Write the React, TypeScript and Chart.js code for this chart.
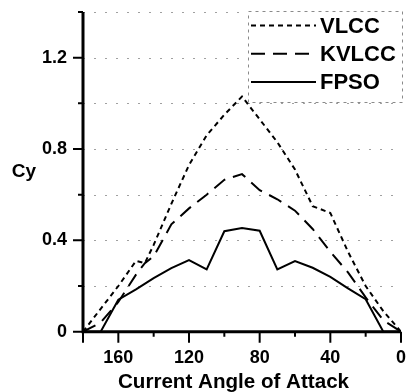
import React, { useEffect, useRef } from 'react';
import { Chart, registerables } from 'chart.js';

Chart.register(...registerables);

const vlccAngles = [180, 170, 160, 150, 145, 140, 130, 120, 110, 100, 90, 80, 70, 60, 50, 40, 30, 20, 10, 0];
const vlccCy = [0, 0.1, 0.2, 0.31, 0.3, 0.38, 0.56, 0.73, 0.86, 0.95, 1.03, 0.93, 0.83, 0.71, 0.55, 0.52, 0.35, 0.2, 0.09, 0];

const kvlccAngles = [180, 170, 160, 150, 145, 140, 130, 120, 110, 100, 90, 80, 70, 60, 50, 40, 30, 20, 10, 0];
const kvlccCy = [0, 0.04, 0.13, 0.25, 0.3, 0.33, 0.47, 0.54, 0.6, 0.665, 0.69, 0.62, 0.58, 0.53, 0.45, 0.35, 0.26, 0.15, 0.05, 0];

const fpsoAngles = [180, 170, 160, 150, 140, 130, 120, 110, 100, 90, 80, 70, 60, 50, 40, 30, 20, 10, 0];
const fpsoCy = [0, 0, 0.14, 0.185, 0.235, 0.278, 0.314, 0.273, 0.44, 0.454, 0.442, 0.273, 0.309, 0.28, 0.24, 0.19, 0.142, 0, 0];

const seriesNames = ['VLCC', 'KVLCC', 'FPSO'];
const seriesDashes = [[5, 4], [14, 8], []];
const xLabelValues = [160, 120, 80, 40, 0];
const yLabelValues = [0, 0.4, 0.8, 1.2];
const xAxisTitle = 'Current Angle of Attack';
const yAxisTitle = 'Cy';

const FONT = '"Liberation Sans", Arial, sans-serif';

const isYLabel = (v: number) => yLabelValues.some((l) => Math.abs(l - v) < 1e-6);

const framePlugin = {
  id: 'framePlugin',
  beforeDatasetsDraw(chart: any) {
    const { ctx, chartArea } = chart;
    const y = chart.scales.y;
    ctx.save();
    ctx.strokeStyle = '#a0a0a0';
    ctx.lineWidth = 1;
    ctx.setLineDash([2, 9]);
    for (let i = 1; i <= 7; i++) {
      const py = Math.round(y.getPixelForValue(i * 0.2)) + 0.5;
      ctx.beginPath();
      ctx.moveTo(chartArea.left, py);
      ctx.lineTo(chartArea.right, py);
      ctx.stroke();
    }
    ctx.restore();
  },
  afterDatasetsDraw(chart: any) {
    const { ctx, chartArea } = chart;
    const xs = chart.scales.x;
    const ys = chart.scales.y;
    ctx.save();
    ctx.setLineDash([]);
    ctx.strokeStyle = '#000';
    // axes
    ctx.lineWidth = 3;
    ctx.beginPath();
    ctx.moveTo(chartArea.left, chartArea.top);
    ctx.lineTo(chartArea.left, chartArea.bottom + 1.5);
    ctx.moveTo(chartArea.left - 1.5, chartArea.bottom);
    ctx.lineTo(chartArea.right, chartArea.bottom);
    ctx.stroke();
    // ticks
    ctx.lineWidth = 2;
    ctx.beginPath();
    for (let i = 0; i <= 7; i++) {
      const v = i * 0.2;
      const py = ys.getPixelForValue(v);
      const len = isYLabel(v) ? 10 : 5;
      ctx.moveTo(chartArea.left, py);
      ctx.lineTo(chartArea.left - len, py);
    }
    for (let a = 0; a <= 180; a += 20) {
      const px = xs.getPixelForValue(a);
      const len = xLabelValues.includes(a) || a === 180 ? 11 : 5;
      ctx.moveTo(px, chartArea.bottom);
      ctx.lineTo(px, chartArea.bottom + len);
    }
    ctx.stroke();

    // y title (horizontal)
    ctx.fillStyle = '#000';
    ctx.font = `bold 19px ${FONT}`;
    ctx.textAlign = 'center';
    ctx.textBaseline = 'middle';
    ctx.fillText(yAxisTitle, 24, (chartArea.top + chartArea.bottom) / 2);

    // x title
    ctx.font = `bold 20.6px ${FONT}`;
    ctx.textAlign = 'center';
    ctx.textBaseline = 'alphabetic';
    ctx.fillText(xAxisTitle, chartArea.left + 150.5, chartArea.bottom + 56);

    // legend
    const bx = chartArea.right - 153;
    const by = chartArea.top - 1.5;
    const bw = 154;
    const bh = 91;
    ctx.fillStyle = '#fff';
    ctx.fillRect(bx, by, bw, bh);
    ctx.strokeStyle = '#8a8a8a';
    ctx.lineWidth = 1;
    ctx.setLineDash([3, 4]);
    ctx.strokeRect(Math.round(bx) + 0.5, Math.round(by) + 0.5, bw, bh);
    ctx.font = `bold 22px ${FONT}`;
    ctx.textAlign = 'left';
    ctx.textBaseline = 'middle';
    for (let i = 0; i < seriesNames.length; i++) {
      const cy = by + 15 + i * 28.3;
      ctx.strokeStyle = '#000';
      ctx.lineWidth = 2;
      ctx.setLineDash(seriesDashes[i]);
      ctx.beginPath();
      ctx.moveTo(bx + 3, cy);
      ctx.lineTo(bx + 68, cy);
      ctx.stroke();
      ctx.fillStyle = '#000';
      ctx.fillText(seriesNames[i], bx + 72, cy + 1);
    }
    ctx.restore();
  },
};

export default function App() {
  const canvasRef = useRef<HTMLCanvasElement | null>(null);

  useEffect(() => {
    const canvas = canvasRef.current;
    if (!canvas) return;
    const mk = (angles: number[], vals: number[]) => angles.map((a, i) => ({ x: a, y: vals[i] }));
    const datasets = [mk(vlccAngles, vlccCy), mk(kvlccAngles, kvlccCy), mk(fpsoAngles, fpsoCy)].map((d, i) => ({
      label: seriesNames[i],
      data: d,
      borderColor: '#000',
      borderWidth: 2,
      borderDash: seriesDashes[i],
      pointRadius: 0,
      tension: 0,
      fill: false,
    }));

    const chart = new Chart(canvas, {
      type: 'line',
      data: { datasets },
      options: {
        animation: false,
        responsive: false,
        devicePixelRatio: 1,
        layout: { padding: { top: 12, right: 7, bottom: 0, left: 0 } },
        plugins: { legend: { display: false }, tooltip: { enabled: false } },
        scales: {
          x: {
            type: 'linear',
            reverse: true,
            min: 0,
            max: 180,
            grid: { display: false, drawTicks: true, tickLength: 10 },
            border: { display: false },
            ticks: {
              stepSize: 20,
              autoSkip: false,
              maxRotation: 0,
              padding: 6,
              color: '#000',
              font: { family: FONT, size: 18, weight: 'bold' },
              callback: (v: any) => (xLabelValues.includes(Number(v)) ? String(v) : ''),
            },
            afterFit: (s: any) => {
              s.height = 60.3;
              s.paddingLeft = 0;
              s.paddingRight = 0;
            },
          },
          y: {
            type: 'linear',
            min: 0,
            max: 1.4,
            grid: { display: false, drawTicks: true, tickLength: 10 },
            border: { display: false },
            ticks: {
              stepSize: 0.2,
              autoSkip: false,
              padding: 6,
              color: '#000',
              font: { family: FONT, size: 18, weight: 'bold' },
              callback: (v: any) => {
                const n = Number(v);
                if (!isYLabel(n)) return '';
                return Math.abs(n) < 1e-9 ? '0' : n.toFixed(1);
              },
            },
            afterFit: (s: any) => {
              s.width = 83;
              s.paddingTop = 0;
              s.paddingBottom = 0;
            },
          },
        },
      },
      plugins: [framePlugin],
    } as any);

    return () => chart.destroy();
  }, []);

  return (
    <div style={{ position: 'absolute', left: 0, top: 0, width: 408, height: 392, background: '#fff' }}>
      <canvas ref={canvasRef} width={408} height={392} />
    </div>
  );
}
